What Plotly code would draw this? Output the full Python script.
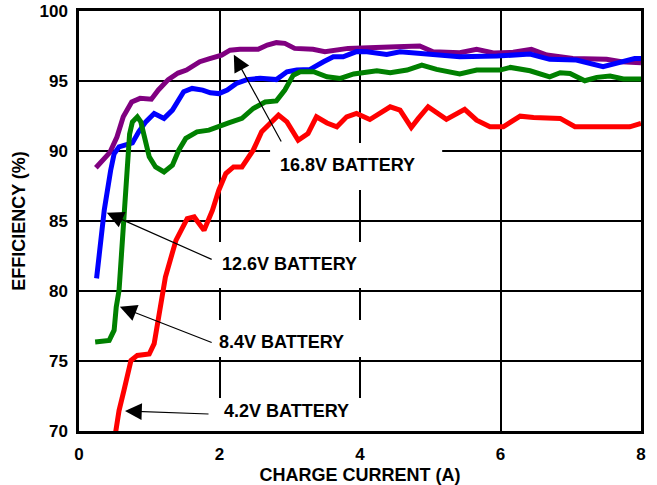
import plotly.graph_objects as go

# 16.8V battery (purple)
x_168 = [0.24,0.44,0.54,0.63,0.75,0.87,1.03,1.13,1.27,1.41,1.53,1.72,1.86,2.03,2.15,2.29,2.55,2.68,2.81,2.93,3.07,3.33,3.50,3.83,4.52,4.85,5.04,5.42,5.66,5.90,6.18,6.44,6.66,7.03,7.51,7.72,8.0]
y_168 = [88.8,89.9,91.0,92.45,93.5,93.76,93.7,94.36,95.1,95.57,95.78,96.38,96.6,96.85,97.2,97.26,97.26,97.57,97.74,97.69,97.33,97.26,97.09,97.33,97.45,97.5,97.09,97.02,97.26,97.0,97.05,97.26,96.85,96.6,96.55,96.37,96.3]

# 12.6V battery (blue)
x_126 = [0.25,0.36,0.45,0.50,0.57,0.76,0.85,0.95,1.07,1.21,1.33,1.49,1.61,1.76,1.87,1.99,2.11,2.24,2.39,2.58,2.81,2.96,3.10,3.29,3.48,3.62,3.76,3.95,4.10,4.38,4.57,4.85,5.19,5.42,5.95,6.42,6.70,7.08,7.46,7.70,7.91,8.0]
y_126 = [80.9,85.8,88.6,89.8,90.3,90.58,91.37,92.08,92.68,92.33,92.92,94.23,94.47,94.35,94.16,94.1,94.35,94.83,95.1,95.2,95.1,95.66,95.78,95.83,96.37,96.73,96.73,97.1,97.09,96.9,97.09,96.97,96.85,96.73,96.78,96.93,96.55,96.5,96.02,96.37,96.6,96.6]

# 8.4V battery (green)
x_84 = [0.23,0.43,0.50,0.53,0.57,0.62,0.66,0.69,0.72,0.76,0.83,0.88,0.93,1.0,1.09,1.21,1.33,1.42,1.52,1.68,1.85,1.99,2.13,2.32,2.48,2.65,2.81,2.93,3.05,3.15,3.34,3.53,3.72,3.91,4.0,4.24,4.43,4.67,4.88,5.09,5.42,5.66,5.99,6.14,6.42,6.70,6.85,6.99,7.20,7.37,7.56,7.75,8.0]
y_84 = [76.35,76.47,77.2,78.85,80.04,84.1,86.96,90.0,91.2,92.08,92.44,92.08,91.0,89.58,88.86,88.5,88.98,90.06,90.9,91.37,91.49,91.77,92.01,92.33,93.04,93.5,93.58,94.35,95.42,95.66,95.66,95.3,95.18,95.5,95.54,95.73,95.59,95.78,96.14,95.83,95.5,95.78,95.78,95.97,95.73,95.3,95.59,95.54,95.02,95.26,95.35,95.14,95.14]

# 4.2V battery (red)
x_42 = [0.51,0.57,0.64,0.74,0.83,1.0,1.07,1.14,1.23,1.38,1.54,1.64,1.78,1.90,1.99,2.09,2.20,2.32,2.48,2.60,2.72,2.84,2.96,3.12,3.26,3.38,3.53,3.67,3.81,3.95,4.14,4.43,4.57,4.73,4.83,4.97,5.23,5.49,5.66,5.85,6.04,6.28,6.47,6.85,7.06,7.84,8.0]
y_42 = [69.55,71.46,72.9,75.04,75.4,75.5,76.24,78.13,81.0,83.62,85.17,85.29,84.33,85.77,87.2,88.39,88.86,88.86,90.06,91.37,91.97,92.56,92.08,90.77,91.25,92.44,92.0,91.73,92.44,92.68,92.25,93.16,92.92,91.68,92.33,93.16,92.26,92.98,92.2,91.73,91.73,92.49,92.4,92.33,91.73,91.73,91.97]

x_ticks = [0, 2, 4, 6, 8]
y_ticks = [70, 75, 80, 85, 90, 95, 100]

FONT = "Liberation Sans, Arial, sans-serif"

fig = go.Figure()
for xs, ys, col in [(x_168, y_168, "#800080"), (x_126, y_126, "#0000ff"),
                    (x_84, y_84, "#008000"), (x_42, y_42, "#ff0000")]:
    fig.add_trace(go.Scatter(x=xs, y=ys, mode="lines", cliponaxis=False,
                             line=dict(color=col, width=5), showlegend=False,
                             hoverinfo="skip"))

# white boxes hiding grid behind labels
boxes = [(2.72, 5.17, 87.21, 90.57), (1.79, 4.28, 80.21, 83.5),
         (1.79, 4.28, 75.29, 77.93), (1.79, 4.28, 70.0, 72.36)]
for x0, x1, y0, y1 in boxes:
    fig.add_shape(type="rect", x0=x0, x1=x1, y0=y0, y1=y1, xref="x", yref="y",
                  fillcolor="white", line=dict(width=0), layer="between")

labels = [("16.8V BATTERY", 2.83, 89.0, 2.19, 97.0, 2.89, 90.57),
          ("12.6V BATTERY", 2.01, 81.93, 0.37, 85.64, 1.91, 82.21),
          ("8.4V BATTERY", 1.96, 76.36, 0.555, 78.93, 1.91, 76.28),
          ("4.2V BATTERY", 2.03, 71.43, 0.626, 71.43, 1.865, 71.21)]
for txt, tx, ty, hx, hy, axx, ayy in labels:
    fig.add_annotation(x=tx, y=ty, text=txt, showarrow=False, xanchor="left",
                       yanchor="middle", font=dict(family=FONT, size=18, color="black", weight="bold"))
    fig.add_annotation(x=hx, y=hy, ax=axx, ay=ayy, axref="x", ayref="y", text="",
                       showarrow=True, arrowhead=2, arrowsize=2.8, arrowwidth=1.2,
                       arrowcolor="black", standoff=2)

axis_common = dict(showline=True, mirror=True, linecolor="black", linewidth=2.5,
                   showgrid=True, gridcolor="black", gridwidth=2, zeroline=False,
                   ticks="", tickfont=dict(family=FONT, size=17, color="black", weight="bold"))

fig.update_xaxes(range=[0, 8], tickvals=x_ticks, ticktext=[str(v) for v in x_ticks],
                 title=dict(text="CHARGE CURRENT (A)", standoff=6,
                            font=dict(family=FONT, size=18, color="black", weight="bold")),
                 ticklabelstandoff=6, **axis_common)
fig.update_yaxes(range=[70, 100], tickvals=y_ticks, ticktext=[str(v) for v in y_ticks],
                 title=dict(text="EFFICIENCY (%)", standoff=10,
                            font=dict(family=FONT, size=18, color="black", weight="bold")),
                 ticklabelstandoff=5, **axis_common)

fig.update_layout(width=657, height=485, margin=dict(l=79, r=16, t=11, b=54, autoexpand=False),
                  plot_bgcolor="white", paper_bgcolor="white")

fig.write_html("out.html", config={"displayModeBar": False},
               post_script="document.body.style.margin='0';document.body.style.overflow='hidden';")
